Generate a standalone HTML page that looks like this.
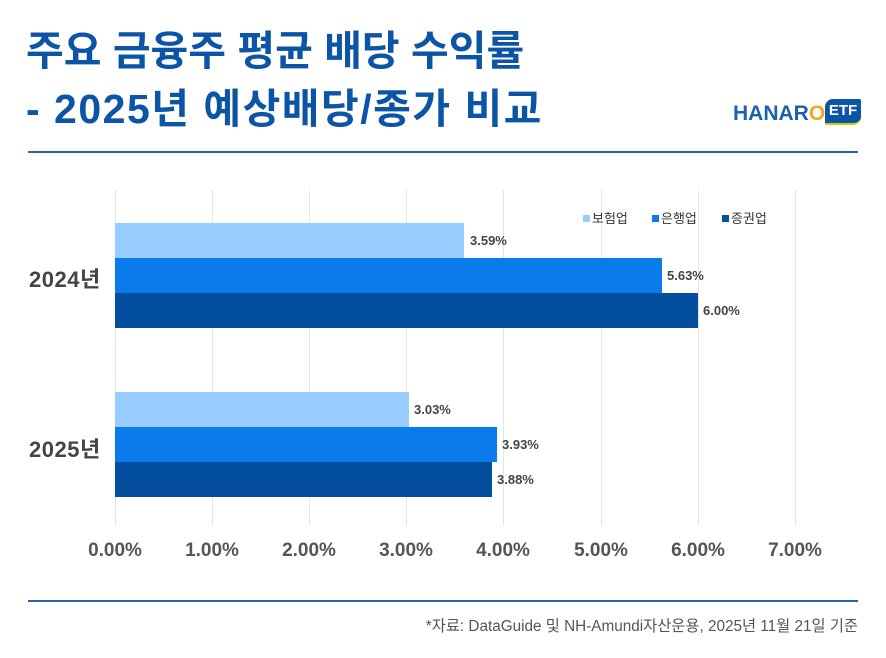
<!DOCTYPE html>
<html><head><meta charset="utf-8"><style>
body{margin:0;width:886px;height:658px;background:#fff;font-family:"Liberation Sans","Noto Sans CJK KR",sans-serif;position:relative;overflow:hidden}
.t{position:absolute;left:26px;color:#0c55a6;font-weight:bold;font-size:41px;letter-spacing:0px;white-space:nowrap;line-height:46px}
.hr{position:absolute;left:28px;width:830px;height:2px;background:#2a64a8}
.g{position:absolute;top:190px;height:336px;width:1px;background:#e6e6e6}
.b{position:absolute;left:115px;height:35px}
.v{position:absolute;font-size:13px;font-weight:bold;color:#444}
.x{position:absolute;top:540px;font-size:19px;font-weight:bold;color:#555;width:100px;text-align:center}
.y{position:absolute;left:29px;font-size:22px;font-weight:bold;color:#444;letter-spacing:0.5px}
.l{position:absolute;top:208px;font-size:13px;color:#333}
.sq{display:inline-block;width:7px;height:7px;margin-right:2px;vertical-align:1px}
</style></head><body>
<div class="t" style="top:28px">주요 금융주 평균 배당 수익률</div>
<div class="t" style="top:86px;letter-spacing:1.5px">- 2025년 예상배당/종가 비교</div>
<div style="position:absolute;left:733px;top:102px;font-size:21px;font-weight:bold;letter-spacing:0px"><span style="color:#1a62b0">HANAR</span><span style="color:#f5a623">O</span></div>
<div style="position:absolute;left:825px;top:99px;width:36px;height:24px;background:#0c55a6;border-radius:8px 2px 8px 2px;border-bottom:2px solid #c7d400;color:#fff;font-weight:bold;font-size:15px;text-align:center;line-height:24px">ETF</div>
<div class="hr" style="top:151px"></div>
<div class="hr" style="top:600px"></div>
<div class="g" style="left:115px"></div><div class="g" style="left:212px"></div><div class="g" style="left:309px"></div><div class="g" style="left:406px"></div><div class="g" style="left:503px"></div><div class="g" style="left:601px"></div><div class="g" style="left:698px"></div><div class="g" style="left:795px"></div>
<div class="b" style="top:223px;width:349px;background:#99ccff"></div>
<div class="b" style="top:258px;width:547px;background:#0a7bea"></div>
<div class="b" style="top:293px;width:583px;background:#034f9e"></div>
<div class="b" style="top:392px;width:294px;background:#99ccff"></div>
<div class="b" style="top:427px;width:382px;background:#0a7bea"></div>
<div class="b" style="top:462px;width:377px;background:#034f9e"></div>
<div class="v" style="left:470px;top:233px">3.59%</div>
<div class="v" style="left:667px;top:268px">5.63%</div>
<div class="v" style="left:703px;top:303px">6.00%</div>
<div class="v" style="left:414px;top:402px">3.03%</div>
<div class="v" style="left:502px;top:437px">3.93%</div>
<div class="v" style="left:497px;top:472px">3.88%</div>
<div class="y" style="top:262px">2024년</div>
<div class="y" style="top:432px">2025년</div>
<div class="x" style="left:65px">0.00%</div><div class="x" style="left:162px">1.00%</div><div class="x" style="left:259px">2.00%</div><div class="x" style="left:356px">3.00%</div><div class="x" style="left:453px">4.00%</div><div class="x" style="left:551px">5.00%</div><div class="x" style="left:648px">6.00%</div><div class="x" style="left:745px">7.00%</div>
<div class="l" style="left:583px"><span class="sq" style="background:#99ccff"></span>보험업</div>
<div class="l" style="left:652px"><span class="sq" style="background:#0a7bea"></span>은행업</div>
<div class="l" style="left:722px"><span class="sq" style="background:#034f9e"></span>증권업</div>
<div style="position:absolute;right:28px;top:614px;font-size:15.3px;color:#555">*자료: DataGuide 및 NH-Amundi자산운용, 2025년 11월 21일 기준</div>
</body></html>
